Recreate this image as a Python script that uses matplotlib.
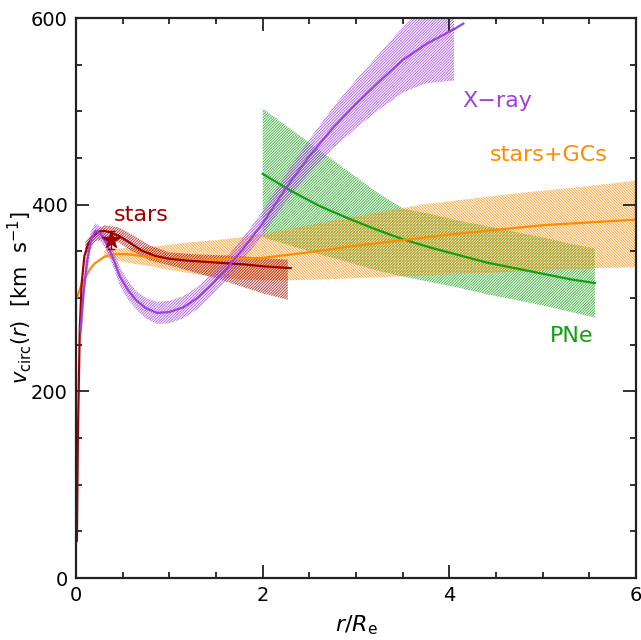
import matplotlib
matplotlib.use("Agg")
import matplotlib.pyplot as plt
import numpy as np

# ---------------- data ----------------
xray_r = [0.05, 0.08, 0.12, 0.16, 0.21, 0.27, 0.33, 0.40, 0.47, 0.56, 0.65, 0.75, 0.87, 1.0,
          1.15, 1.3, 1.45, 1.6, 1.8, 2.0, 2.25, 2.5, 2.75, 3.0, 3.25, 3.5, 3.75, 4.05]
xray_v = [265, 305, 340, 362, 372, 368, 358, 342, 323, 308, 297, 289, 284, 285,
          290, 300, 314, 330, 354, 380, 418, 452, 482, 508, 532, 555, 572, 588]
xray_lo = [245, 290, 328, 352, 364, 360, 350, 333, 313, 298, 287, 278, 272, 273,
           278, 288, 302, 318, 342, 367, 403, 434, 460, 482, 502, 520, 530, 533]
xray_hi = [285, 320, 352, 372, 380, 376, 366, 351, 333, 318, 307, 300, 296, 297,
           302, 312, 326, 342, 366, 393, 433, 470, 504, 534, 562, 590, 614, 643]
xray_end_r = [4.05, 4.15]
xray_end_v = [588, 594]

stars_r = [0.01, 0.02, 0.04, 0.06, 0.09, 0.13, 0.18, 0.24, 0.30, 0.38, 0.47, 0.58,
           0.70, 0.85, 1.0, 1.2, 1.5, 1.8, 2.0, 2.3]
stars_v = [40, 150, 265, 315, 345, 358, 366, 371, 372, 370, 366, 359,
           351, 345, 342, 340, 338, 336, 334, 332]
stars_band_r = [0.1, 0.2, 0.3, 0.45, 0.6, 0.8, 1.0, 1.25, 1.5, 1.75, 2.0, 2.27]
stars_band_lo = [345, 360, 364, 360, 350, 340, 335, 328, 321, 313, 305, 298]
stars_band_hi = [360, 372, 378, 376, 368, 356, 349, 347, 346, 345, 343, 341]
star_point_r = [0.375]
star_point_v = [362]
star_point_err = [10]

gc_r = [0.0, 0.05, 0.1, 0.15, 0.2, 0.3, 0.4, 0.55, 0.7, 0.9, 1.2, 1.5, 2.0, 2.5,
        3.0, 3.5, 4.0, 4.5, 5.0, 5.5, 6.0]
gc_v = [298, 312, 322, 331, 337, 344, 347, 347, 345, 342, 341, 341, 343, 349,
        356, 362, 368, 373, 378, 381, 384]
gc_band_r = [0.3, 0.45, 0.6, 0.8, 1.0, 1.25, 1.5, 1.75, 2.0, 2.3, 2.7, 3.2, 3.7,
             4.2, 4.7, 5.2, 5.6, 6.0]
gc_band_hi = [351, 353, 354, 355, 357, 360, 362, 365, 369, 374, 382, 391, 400,
              406, 412, 417, 421, 426]
gc_band_lo = [344, 340, 337, 334, 330, 326, 322, 320, 319, 319, 320, 322, 324,
              326, 328, 330, 332, 333]

pne_r = [2.0, 2.3, 2.6, 2.9, 3.2, 3.5, 3.8, 4.1, 4.4, 4.7, 5.0, 5.3, 5.56]
pne_v = [433, 415, 399, 386, 374, 363, 354, 346, 338, 332, 326, 320, 316]
pne_hi = [503, 481, 459, 437, 415, 396, 390, 383, 377, 371, 365, 358, 353]
pne_lo = [365, 356, 347, 339, 330, 323, 317, 311, 304, 298, 292, 285, 279]

# ---------------- style ----------------
c_xray = "#a040e0"
c_stars = "#a00000"
c_gc = "#ff8c00"
c_pne = "#10a010"

plt.rcParams["font.family"] = ["DejaVu Sans"]
plt.rcParams["mathtext.fontset"] = "dejavusans"
plt.rcParams["hatch.linewidth"] = 0.7

fig = plt.figure(figsize=(6.41, 6.40), dpi=100)
ax = fig.add_axes([76 / 641, 62 / 640, 560 / 641, 560 / 640])

def band(r, lo, hi, color, hatch):
    ax.fill_between(r, lo, hi, facecolor="none", edgecolor=color, hatch=hatch,
                    linewidth=0, alpha=0.75)

band(pne_r, pne_lo, pne_hi, c_pne, "/" * 12)
band(gc_band_r, gc_band_lo, gc_band_hi, c_gc, "\\" * 12)
band(stars_band_r, stars_band_lo, stars_band_hi, c_stars, "/" * 12)
band(xray_r, xray_lo, xray_hi, c_xray, "/" * 12)

ax.plot(pne_r, pne_v, color=c_pne, lw=1.6)
ax.plot(gc_r, gc_v, color=c_gc, lw=1.6)
ax.plot(stars_r, stars_v, color=c_stars, lw=1.6)
ax.plot(xray_r, xray_v, color=c_xray, lw=1.6)
ax.plot(xray_end_r, xray_end_v, color=c_xray, lw=1.6)
ax.errorbar(star_point_r, star_point_v, yerr=star_point_err, fmt="none", ecolor=c_stars,
            capsize=3, elinewidth=1.0, capthick=1.0, zorder=10)
ax.plot(star_point_r, star_point_v, marker="*", ms=13, color=c_stars, ls="none", zorder=11)

ax.text(4.51, 511, "X\u2212ray", color=c_xray, fontsize=16, ha="center", va="center")
ax.text(5.07, 453, "stars+GCs", color=c_gc, fontsize=16, ha="center", va="center")
ax.text(5.31, 259, "PNe", color=c_pne, fontsize=16, ha="center", va="center")
ax.text(0.7, 389, "stars", color=c_stars, fontsize=16, ha="center", va="center")

ax.set_xlim(0, 6)
ax.set_ylim(0, 600)
ax.set_xticks([0, 2, 4, 6])
ax.set_yticks([0, 200, 400, 600])
ax.set_xticks(np.arange(0, 6.01, 0.5), minor=True)
ax.set_yticks(np.arange(0, 601, 50), minor=True)
ax.tick_params(which="both", direction="in", top=True, right=True, labelsize=14,
               width=1.3, color="#222222")
ax.tick_params(which="major", length=9.5, pad=6)
ax.tick_params(which="minor", length=4.5)
for s in ax.spines.values():
    s.set_linewidth(1.6)
    s.set_color("#222222")

ax.set_xlabel(r"$r/R_{\rm e}$", fontsize=16, labelpad=6)
ax.set_ylabel(r"$v_{\rm circ}(r)$  [km  s$^{-1}$]", fontsize=15)
ax.yaxis.set_label_coords(-0.075, 0.5)

fig.savefig("out.png", dpi=100)
